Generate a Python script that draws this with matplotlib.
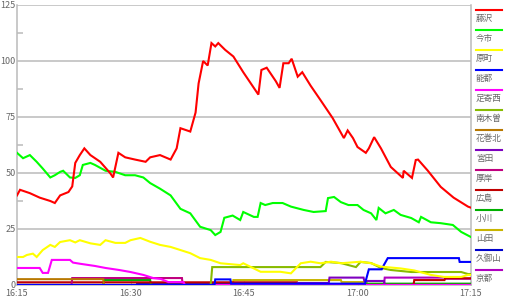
import matplotlib
matplotlib.use("Agg")
import matplotlib.pyplot as plt
from matplotlib.lines import Line2D

plt.rcParams['font.family'] = ['Noto Sans CJK JP', 'DejaVu Sans']

# minutes after 16:15
xticks = [0, 15, 30, 45, 60]
xticklabels = ["16:15", "16:30", "16:45", "17:00", "17:15"]
yticks = [0, 25, 50, 75, 100, 125]

names = ["藤沢", "今市", "原町", "能都", "足寄西", "南木曽", "花巻北",
         "宮田", "厚岸", "広島", "小川", "山田", "久御山", "京都"]
colors = ["#ff0000", "#00ff00", "#ffff00", "#0000ff", "#ff00ff", "#88bb00", "#b87800",
          "#7f00bf", "#c0007f", "#c00000", "#00b000", "#c8b400", "#0000cc", "#b000c0"]

fujisawa_t = [0, 0.4, 1.7, 3.0, 4.4, 5.0, 5.7, 6.8, 7.3, 7.7, 8.3, 8.9, 9.7, 11.0, 12.3, 12.7,
              13.4, 14.3, 15.6, 17.0, 17.6, 18.9, 20.3, 21.1, 21.6, 22.9, 23.6, 24.0, 24.6,
              25.2, 25.7, 26.2, 26.6, 27.2, 27.5, 28.6, 29.9, 31.3, 31.9, 32.3, 33.0, 34.2,
              34.7, 35.2, 35.9, 36.3, 37.1, 37.7, 38.8, 40.1, 41.7, 43.2, 43.7, 44.4, 45.0,
              46.1, 46.5, 47.2, 48.1, 49.4, 51.0, 51.1, 52.2, 52.7, 53.0, 54.3, 56.0, 57.7,
              59.6, 60]
fujisawa_v = [40, 42.5, 41, 39, 37.5, 36.6, 40, 41.5, 44, 54.5, 58, 61, 58, 55, 50, 48,
              59, 57, 56, 55, 57, 58, 56, 61, 70, 68.5, 77, 90, 100,
              98, 108, 106.5, 108, 106, 105, 102, 95, 88, 85, 96, 97, 91,
              88, 99, 99, 101, 93, 95, 89, 82.6, 74.6, 65.6, 69, 65.6, 61.6,
              59, 61, 66, 61, 52.7, 47.8, 51, 47.8, 55.8, 56, 51, 43.8, 39,
              35, 34.5]

imaichi_t = [0, 0.8, 1.7, 2.6, 3.4, 4.4, 5.0, 5.7, 6.1, 7.0, 7.7, 8.3, 8.7, 9.7, 10.3, 11.7,
             13.0, 14.3, 15.6, 16.7, 17.6, 18.9, 20.3, 21.6, 22.9, 24.2, 25.6, 26.2, 26.9,
             27.4, 28.5, 29.5, 29.9, 31.3, 31.8, 32.2, 32.8, 33.8, 35.1, 36.2, 37.9, 39.2,
             40.8, 41.1, 41.9, 42.8, 43.8, 45.0, 45.8, 46.8, 47.5, 47.8, 48.7, 49.8, 50.7,
             52.1, 53.1, 53.4, 54.7, 56.0, 57.6, 58.7, 60]
imaichi_v = [59, 56.6, 58, 55, 52, 48, 49, 50.5, 51, 48, 47.8, 49, 53.6, 54.5, 53.6, 51,
             50.5, 49, 49, 48, 45.5, 43, 40, 34, 32, 26, 24.5, 22.3, 23.7,
             30, 31, 29, 32.6, 30.4, 30.4, 36.6, 35.7, 36.6, 36.6, 35, 33.5, 32.6,
             33, 38.8, 39.3, 37, 35.7, 35.7, 33.5, 32, 29, 34.4, 32, 33.5, 31.3,
             29.9, 28, 30.4, 28, 27.6, 26.8, 23.7, 21.4]

haramachi_t = [0, 0.8, 1.3, 2.1, 2.6, 3.4, 4.4, 5.0, 5.7, 7.0, 7.7, 8.3, 9.7, 11.0, 11.7,
               13.0, 14.3, 15.0, 16.3, 17.6, 18.9, 20.3, 21.6, 22.9, 24.2, 25.6, 26.9,
               29.5, 29.9, 32.2, 34.8, 36.2, 37.5, 38.8, 40.1, 41.5, 42.8, 45.4, 46.8,
               48.1, 50.7, 52.5, 54.7, 56.4, 58.7, 59.6, 60]
haramachi_v = [12.5, 12.5, 13.4, 14, 12.5, 15.6, 17.9, 17, 19.2, 20, 19, 20, 18.6, 17.9, 20,
               18.8, 18.8, 20, 21, 19.3, 17.9, 17, 15.6, 14.2, 12, 11.2, 9.7,
               8.9, 9.7, 5.9, 5.9, 5.2, 9.7, 10.4, 9.7, 10.4, 9.7, 10.4, 9.7,
               8.2, 7.4, 6.5, 4.5, 3.6, 3.6, 4.5, 4.5]

noto_t = [0, 26.1, 26.2, 28.2, 28.3, 46.0, 46.1, 46.5, 47.7, 48.2, 48.5, 49.0, 58.4, 58.5, 60]
noto_v = [0, 0, 2.5, 2.5, 0.6, 0.6, 2, 7, 7, 7, 9, 12, 12, 10.3, 10.3]

ashoro_t = [0, 3.0, 3.4, 4.1, 4.6, 7.0, 7.4, 8.3, 10.3, 11.7, 13.5, 15.0, 16.7, 18.0, 19.0,
            20.0, 22.0, 22.2, 60]
ashoro_v = [7.6, 7.6, 5.4, 5.4, 11.2, 11.2, 10, 9.5, 8.5, 7.6, 6.7, 5.8, 4.5, 3.1, 2.7,
            1.3, 1.3, 0, 0]

nagiso_t = [0, 25.6, 25.8, 37.5, 40.1, 40.8, 42.8, 44.8, 45.4, 46.8, 48.1, 49.4, 52.1,
            58.7, 59.6, 60]
nagiso_v = [0, 0, 8, 8, 8, 10.3, 9.8, 8, 10.3, 9.8, 7.6, 6.7, 5.8, 5.8, 4.9, 4.9]

hanamaki_t = [0, 11.4, 11.5, 60]
hanamaki_v = [2.6, 2.6, 0, 0]

miyata_t = [0, 37.0, 37.1, 41.2, 41.3, 45.8, 45.9, 48.5, 48.6, 60]
miyata_v = [0, 0, 0.9, 0.9, 3.3, 3.3, 1.8, 1.8, 0, 0]

akkeshi_t = [0, 7.2, 7.3, 21.8, 21.9, 60]
akkeshi_v = [0, 0, 3.1, 3.1, 0, 0]

hiroshima_t = [0, 37.0, 37.1, 52.4, 52.5, 56.5, 56.6, 60]
hiroshima_v = [1.2, 1.2, 0, 0, 2.2, 2.2, 3, 3]

ogawa_t = [0, 11.4, 11.5, 17.6, 17.7, 46.0, 46.1, 60]
ogawa_v = [0, 0, 2.2, 2.2, 0, 0, 0.6, 0.6]

yamada_t = [0, 28.5, 28.6, 42.8, 42.9, 46.2, 46.3, 60]
yamada_v = [0, 0, 2.2, 2.2, 1.3, 1.3, 0, 0]

kumiyama_t = [0, 15.8, 15.9, 31.0, 31.1, 60]
kumiyama_v = [0, 0, 0.8, 0.8, 0, 0]

kyoto_t = [0, 48.5, 48.6, 56.5, 56.6, 60]
kyoto_v = [0, 0, 3.3, 3.3, 2.8, 2.8]

series = [(fujisawa_t, fujisawa_v), (imaichi_t, imaichi_v), (haramachi_t, haramachi_v),
          (noto_t, noto_v), (ashoro_t, ashoro_v), (nagiso_t, nagiso_v),
          (hanamaki_t, hanamaki_v), (miyata_t, miyata_v), (akkeshi_t, akkeshi_v),
          (hiroshima_t, hiroshima_v), (ogawa_t, ogawa_v), (yamada_t, yamada_v),
          (kumiyama_t, kumiyama_v), (kyoto_t, kyoto_v)]

W, H = 512, 300
fig = plt.figure(figsize=(W / 100, H / 100), dpi=100)
ax = fig.add_axes([17 / W, 1 - 285 / H, (471 - 17) / W, (285 - 5) / H])

grid_c = "#bbbbbb"
text_c = "#666666"

for i in reversed(range(len(series))):
    t, v = series[i]
    ax.plot(t, v, color=colors[i], lw=1.5, solid_joinstyle='miter', zorder=3 + (14 - i) * 0.01)

ax.set_xlim(0, 60)
ax.set_ylim(0, 125)
ax.set_yticks(yticks)
ax.set_yticks([12.5, 37.5, 62.5, 87.5, 112.5], minor=True)
ax.set_xticks(xticks)
ax.set_xticklabels(xticklabels)
ax.yaxis.grid(True, color=grid_c, lw=1.1, zorder=1)
ax.set_axisbelow(True)
for s in ["left", "bottom", "right"]:
    ax.spines[s].set_color(grid_c)
    ax.spines[s].set_linewidth(1.1)
ax.spines["top"].set_visible(False)
ax.tick_params(axis='y', which='major', length=0, labelsize=6.5, colors=text_c, pad=1)
ax.tick_params(axis='y', which='minor', length=4, direction='in', color=grid_c, width=1.1)
ax.tick_params(axis='x', which='major', length=3, direction='in', color=grid_c,
               labelsize=6.5, labelcolor=text_c, pad=3)

# legend drawn to the right of the plot
for k, (nm, c) in enumerate(zip(names, colors)):
    yl = 1 - (10 + 20 * k) / H
    fig.add_artist(Line2D([476 / W, 502 / W], [yl, yl], color=c, lw=1.5,
                          transform=fig.transFigure))
    fig.text(476 / W, 1 - (18.5 + 20 * k) / H, nm, color=text_c, fontsize=6.2,
             ha='left', va='center')

fig.savefig("out.png", dpi=100)
